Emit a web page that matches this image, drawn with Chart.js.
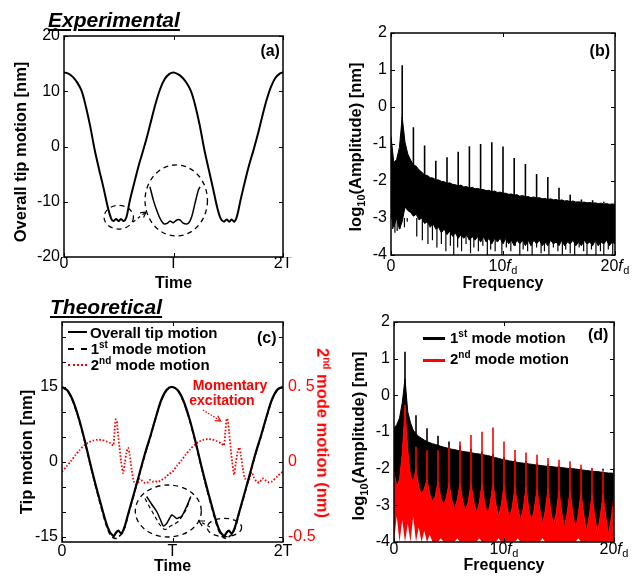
<!DOCTYPE html>
<html><head><meta charset="utf-8">
<title>Experimental and theoretical tip motion</title>
<script src="https://cdn.jsdelivr.net/npm/chart.js@4.4.1/dist/chart.umd.min.js"></script>
<style>
html,body{margin:0;padding:0;background:#fff;}
body{width:639px;height:576px;position:relative;overflow:hidden;font-family:"Liberation Sans",Arial,sans-serif;color:#000;}
#charts canvas{position:absolute;}
.t{position:absolute;white-space:nowrap;line-height:1;font-weight:bold;}
.ttl{font-size:21px;font-style:italic;text-decoration:underline;text-decoration-thickness:2px;text-underline-offset:2px;}
.lab{font-size:16px;}
.rot{position:absolute;white-space:nowrap;line-height:1;font-weight:bold;font-size:16.5px;transform:translate(-50%,-50%) rotate(-90deg);}
.sub{font-size:11px;position:relative;top:4px;}
.sup{font-size:10px;position:relative;top:-6px;}
.leg{font-size:15px;}
.sw{position:absolute;height:0;}
.red{color:#ff0000;}
</style></head><body>
<div id="charts"></div>

<div class="t ttl" style="left:48px;top:9px">Experimental</div>
<div class="t ttl" style="left:50px;top:295.5px">Theoretical</div>
<div class="t lab" style="left:260.4px;top:42.5px">(a)</div>
<div class="t lab" style="left:589.6px;top:42.5px">(b)</div>
<div class="t lab" style="left:257px;top:329.8px">(c)</div>
<div class="t lab" style="left:588px;top:327px">(d)</div>

<div class="rot" style="left:20px;top:151.7px">Overall tip motion [nm]</div>
<div class="rot" style="left:355px;top:146.5px">log<span class="sub">10</span>(Amplitude) [nm]</div>
<div class="rot" style="left:26px;top:451.7px">Tip motion [nm]</div>
<div class="rot" style="left:358px;top:435.7px">log<span class="sub">10</span>(Amplitude) [nm]</div>
<div class="rot red" style="left:322.5px;top:432.5px;transform:translate(-50%,-50%) rotate(90deg)">2<span class="sup">nd</span> mode motion (nm)</div>

<div class="sw" style="left:68px;top:330.7px;width:19px;border-top:2px solid #000"></div>
<div class="t leg" style="left:90px;top:325.3px">Overall tip motion</div>
<div class="sw" style="left:68px;top:348.3px;width:19px;border-top:2px dashed #000"></div>
<div class="t leg" style="left:90.7px;top:341.3px">1<span class="sup">st</span> mode motion</div>
<div class="sw" style="left:68px;top:364px;width:19px;border-top:2px dotted #ff0000"></div>
<div class="t leg" style="left:90.7px;top:356.6px">2<span class="sup">nd</span> mode motion</div>

<div class="sw" style="left:423px;top:336.8px;width:22px;border-top:3px solid #000"></div>
<div class="t leg" style="left:450px;top:329.7px">1<span class="sup">st</span> mode motion</div>
<div class="sw" style="left:423px;top:358.5px;width:22px;border-top:3px solid #ff0000"></div>
<div class="t leg" style="left:450px;top:351.3px">2<span class="sup">nd</span> mode motion</div>

<div class="t red" style="left:192.7px;top:378.1px;font-size:14px">Momentary</div>
<div class="t red" style="left:189.3px;top:393.2px;font-size:14px">excitation</div>

<script>
// ---------------- tick labels ----------------
const timeTickValues = [0, 1, 2];
const timeTickLabels = ['0', 'T', '2T'];
const tipTickValuesA = [-20, -10, 0, 10, 20];
const tipTickLabelsA = ['-20', '-10', '0', '10', '20'];
const tipTickValuesC = [-15, 0, 15];
const tipTickLabelsC = ['-15', '0', '15'];
const tipMinorTicksC = [-15, -10, -5, 0, 5, 10, 15, 20, 25];
const mode2TickValuesC = [-0.5, 0, 0.5];
const mode2TickLabelsC = ['-0.5', '0', '0. 5'];
const logTickValues = [-4, -3, -2, -1, 0, 1, 2];
const logTickLabels = ['-4', '-3', '-2', '-1', '0', '1', '2'];
const freqTickValues = [0, 10, 20];
const freqTickLabels = ['0', '10f_d', '20f_d'];

// ---------------- (a) experimental tip motion ----------------
const timeA = [0,0.04,0.08,0.12,0.16,0.2,0.24,0.28,0.32,0.36,0.4,0.43,0.45,0.475,0.5,0.52,0.545,0.57,0.6,0.64,0.68,0.72,0.76,0.8,0.84,0.88,0.92,0.96,1.0,
  1.04,1.08,1.12,1.16,1.2,1.24,1.28,1.32,1.36,1.4,1.43,1.46,1.485,1.51,1.53,1.555,1.58,1.61,1.65,1.69,1.73,1.77,1.81,1.85,1.89,1.93,1.97,2.0];
const tipA = [13.4,13.2,12.6,11.6,10.1,7.2,3.6,-0.6,-4.1,-7.4,-11.0,-13.0,-13.5,-13.1,-13.5,-13.1,-13.5,-12.8,-9.9,-6.7,-3.6,-0.9,1.9,5.0,8.0,10.5,12.2,13.1,13.4,
  13.1,12.5,11.5,10.0,7.3,3.8,-0.4,-4.0,-7.5,-11.1,-13.0,-13.6,-13.2,-13.6,-13.2,-13.6,-12.6,-9.9,-6.5,-3.4,-0.7,2.2,5.4,8.4,10.8,12.4,13.2,13.4];
const insetTimeA = [0.785,0.816,0.846,0.877,0.913,0.944,0.968,0.998,1.03,1.06,1.09,1.135,1.166,1.196,1.227,1.242];
const insetTipA = [-7.3,-9.7,-11.5,-13.0,-14.0,-13.9,-13.5,-13.8,-13.3,-13.3,-13.9,-13.9,-12.7,-10.3,-7.9,-7.3];

// ---------------- (c) theoretical tip motion ----------------
const timeC = [0,0.05,0.1,0.15,0.2,0.25,0.3,0.35,0.4,0.43,0.455,0.47,0.49,0.51,0.53,0.545,0.57,0.6,0.65,0.7,0.75,0.8,0.85,0.9,0.95,1.0,
  1.05,1.1,1.15,1.2,1.25,1.3,1.35,1.4,1.43,1.455,1.47,1.49,1.51,1.53,1.545,1.57,1.6,1.65,1.7,1.75,1.8,1.85,1.9,1.95,2.0];
const tipC = [15.0,14.3,12.2,8.9,4.8,0.2,-4.2,-8.3,-12.2,-13.9,-14.6,-14.8,-14.1,-13.7,-14.2,-14.1,-12.7,-10.3,-6.4,-2.4,1.6,5.2,9.0,12.5,14.5,15.0,
  14.3,12.2,8.9,4.8,0.2,-4.2,-8.3,-12.2,-13.9,-14.6,-14.8,-14.1,-13.7,-14.2,-14.1,-12.7,-10.3,-6.4,-2.4,1.6,5.2,9.0,12.5,14.5,15.0];
const mode1C = [15.0,14.2,12.0,8.7,4.6,0.0,-4.5,-8.7,-12.6,-14.3,-15.0,-15.2,-15.3,-15.0,-14.6,-14.3,-13.0,-10.5,-6.6,-2.6,1.4,5.0,8.9,12.4,14.4,15.0,
  14.2,12.0,8.7,4.6,0.0,-4.5,-8.7,-12.6,-14.3,-15.0,-15.2,-15.3,-15.0,-14.6,-14.3,-13.0,-10.5,-6.6,-2.6,1.4,5.0,8.9,12.4,14.4,15.0];
const timeM2 = [0,0.04,0.08,0.12,0.16,0.2,0.24,0.28,0.32,0.36,0.4,0.44,0.465,0.475,0.485,0.495,0.505,0.52,0.535,0.553,
  0.567,0.583,0.598,0.612,0.63,0.65,0.668,0.688,0.706,0.725,0.75,0.772,0.795,0.82,0.845,0.87,0.9,0.94,0.97,1.0,
  1.04,1.08,1.12,1.16,1.2,1.24,1.28,1.32,1.36,1.4,1.44,1.465,1.478,1.49,1.5,1.512,1.525,1.54,1.558,1.572,
  1.59,1.605,1.62,1.64,1.656,1.686,1.705,1.717,1.735,1.76,1.786,1.805,1.822,1.845,1.87,1.9,1.943,1.97,2.0];
const mode2C = [-0.065,-0.03,0.005,0.045,0.08,0.11,0.13,0.143,0.148,0.147,0.138,0.125,0.11,0.2,0.283,0.28,0.2,0.1,0.0,-0.075,
  -0.01,0.06,0.095,0.05,-0.05,-0.13,-0.15,-0.14,-0.11,-0.125,-0.14,-0.138,-0.12,-0.13,-0.128,-0.133,-0.12,-0.1,-0.08,-0.065,
  -0.025,0.01,0.05,0.085,0.115,0.135,0.148,0.152,0.15,0.14,0.125,0.11,0.2,0.29,0.28,0.2,0.1,0.0,-0.085,-0.01,
  0.07,0.097,0.04,-0.06,-0.11,-0.132,-0.09,-0.067,-0.1,-0.13,-0.138,-0.115,-0.11,-0.125,-0.135,-0.13,-0.1,-0.08,-0.065];
const insetTimeC = [0.766,0.81,0.857,0.89,0.917,0.947,0.97,0.993,1.015,1.038,1.06,1.083,1.113,1.14,1.165];
const insetTipC = [-6.9,-8.4,-9.9,-11.5,-12.8,-12.3,-11.4,-10.6,-10.9,-11.3,-11.1,-10.9,-9.6,-8.3,-6.9];
const insetTimeM1C = [0.751,0.79,0.826,0.86,0.887,0.91,0.932,0.955,0.977,1.0,1.052,1.09,1.128,1.158];
const insetMode1C = [-7.3,-8.9,-10.3,-11.6,-12.6,-13.2,-13.5,-13.3,-12.9,-12.6,-11.9,-10.7,-9.3,-7.3];

// ---------------- spectra (b) and (d) ----------------
const freqGrid = [0,0.25,0.5,0.75,1,1.25,1.5,1.75,2,2.25, 2.5,2.75,3,3.25,3.5,3.75,4,4.25,4.5,4.75,
  5,5.25,5.5,5.75,6,6.25,6.5,6.75,7,7.25, 7.5,7.75,8,8.25,8.5,8.75,9,9.25,9.5,9.75,
  10,10.25,10.5,10.75,11,11.25,11.5,11.75,12,12.25, 12.5,12.75,13,13.25,13.5,13.75,14,14.25,14.5,14.75,
  15,15.25,15.5,15.75,16,16.25,16.5,16.75,17,17.25, 17.5,17.75,18,18.25,18.5,18.75,19,19.25,19.5,19.75, 20];
const harmonics = [1,2,3,4,5,6,7,8,9,10,11,12,13,14,15,16,17,18,19,20];

const expUpper = [-0.8,-1.5,-1.42,-1.1,-0.27,-0.95,-1.27,-1.43,-1.56,-1.6, -1.7,-1.76,-1.84,-1.85,-1.91,-1.92,-1.97,-1.97,-2.01,-2.02,
  -2.06,-2.05,-2.09,-2.1,-2.13,-2.11,-2.16,-2.15,-2.19,-2.17, -2.21,-2.2,-2.23,-2.23,-2.26,-2.25,-2.29,-2.27,-2.31,-2.3,
  -2.33,-2.33,-2.36,-2.35,-2.38,-2.37,-2.41,-2.39,-2.43,-2.42, -2.45,-2.43,-2.46,-2.45,-2.48,-2.47,-2.5,-2.48,-2.51,-2.5,
  -2.53,-2.51,-2.54,-2.53,-2.56,-2.54,-2.57,-2.56,-2.58,-2.57, -2.59,-2.58,-2.6,-2.59,-2.61,-2.6,-2.62,-2.61,-2.63,-2.62, -2.63];
const expLower = [-2.9,-3.25,-3.0,-3.3,-3.1,-2.7,-2.8,-2.85,-2.95,-2.9, -3.05,-3.0,-3.15,-3.1,-3.25,-3.15,-3.3,-3.25,-3.4,-3.3,
  -3.45,-3.35,-3.5,-3.4,-3.55,-3.45,-3.55,-3.45,-3.6,-3.5, -3.6,-3.5,-3.65,-3.5,-3.65,-3.55,-3.7,-3.55,-3.65,-3.55,
  -3.7,-3.55,-3.7,-3.6,-3.75,-3.6,-3.7,-3.6,-3.75,-3.6, -3.75,-3.6,-3.7,-3.6,-3.75,-3.65,-3.75,-3.6,-3.7,-3.65,
  -3.75,-3.6,-3.75,-3.65,-3.7,-3.6,-3.75,-3.65,-3.75,-3.6, -3.7,-3.65,-3.75,-3.6,-3.75,-3.65,-3.7,-3.6,-3.75,-3.65, -3.7];
const expPeaks = [1.13,-0.55,-1.04,-1.45,-1.36,-1.21,-1.06,-1.0,-0.95,-1.07,-1.38,-1.54,-1.81,-1.89,-2.18,-2.37,-2.5,-2.52,-2.56,-2.58];
const expDipFreq = [0.15,0.35,0.55,0.8,1.2,1.45,2.3,2.8,3.3,3.7,4.1,4.5,4.9,5.3,5.6,5.95,6.3,6.7,7.1,7.4,7.8,8.2,8.6,8.9,9.3,9.9,
  10.3,10.7,11.1,11.5,11.8,12.2,12.6,13.0,13.4,13.7,14.1,14.5,14.9,15.3,15.6,16.0,16.4,16.8,17.2,17.5,17.9,18.3,18.7,19.0,19.4,19.8];
const expDipDepth = [-3.3,-3.4,-3.35,-3.3,-3.25,-3.1,-3.5,-3.6,-3.7,-3.6,-3.8,-3.7,-3.9,-3.75,-4.0,-3.8,-3.9,-3.7,-3.95,-3.8,-3.9,-3.75,-4.0,-3.85,-3.9,-4.0,
  -3.8,-3.9,-3.75,-4.0,-3.85,-3.9,-4.0,-3.8,-3.95,-3.9,-4.0,-3.8,-3.9,-4.0,-3.85,-3.95,-4.0,-3.8,-3.9,-4.0,-3.85,-4.0,-3.9,-4.0,-3.85,-4.0];

const m1Upper = [-0.9,-0.8,-0.62,-0.2,0.45,-0.45,-0.75,-0.95,-1.05,-1.12, -1.17,-1.22,-1.26,-1.29,-1.32,-1.34,-1.36,-1.39,-1.41,-1.43,
  -1.45,-1.47,-1.48,-1.5,-1.51,-1.53,-1.54,-1.55,-1.56,-1.58, -1.59,-1.6,-1.61,-1.63,-1.64,-1.66,-1.68,-1.7,-1.72,-1.74,
  -1.76,-1.77,-1.79,-1.8,-1.81,-1.83,-1.84,-1.85,-1.86,-1.87, -1.88,-1.89,-1.9,-1.91,-1.92,-1.93,-1.94,-1.94,-1.95,-1.96,
  -1.96,-1.97,-1.98,-1.99,-2.0,-2.0,-2.01,-2.02,-2.03,-2.04, -2.05,-2.06,-2.07,-2.08,-2.08,-2.09,-2.1,-2.11,-2.12,-2.12, -2.13];
const m1Peaks = [1.19,-0.54,-0.9,-1.1,-1.26,-1.37,-1.46,-1.53,-1.6,-1.68,-1.75,-1.8,-1.85,-1.88,-1.92,-1.95,-1.99,-2.03,-2.06,-2.09];
const m2Curve = [-2.1,-2.5,-2.3,-1.6,-0.35,-1.5,-2.2,-2.35,-2.0,-2.5, -2.7,-2.55,-2.3,-2.7,-2.9,-2.75,-2.35,-2.8,-3.0,-2.8,
  -2.4,-2.85,-3.1,-2.85,-2.4,-2.9,-3.15,-2.9,-2.4,-2.9, -3.2,-2.95,-2.4,-2.95,-3.25,-2.95,-2.4,-2.95,-3.3,-3.0,
  -2.45,-3.0,-3.35,-3.05,-2.5,-3.05,-3.4,-3.1,-2.5,-3.1, -3.45,-3.1,-2.55,-3.1,-3.5,-3.15,-2.55,-3.15,-3.55,-3.2,
  -2.6,-3.2,-3.6,-3.2,-2.6,-3.2,-3.65,-3.25,-2.65,-3.25, -3.7,-3.3,-2.7,-3.3,-3.75,-3.3,-2.7,-3.3,-3.8,-3.35, -2.75];
const m2Lower = [-4,-3.3,-4,-3.4,-4,-3.5,-4,-3.3,-4,-3.6, -4,-3.7,-4,-3.8,-4,-4,-4,-3.9,-4,-4,
  -4,-4,-4,-3.9,-4,-4,-4,-4,-4,-4, -4,-3.9,-4,-4,-4,-4,-4,-4,-3.9,-4,
  -4,-4,-4,-4,-4,-3.9,-4,-4,-4,-4, -4,-4,-4,-4,-3.9,-4,-4,-4,-4,-4,
  -4,-4,-4,-4,-4,-4,-4,-3.9,-4,-4, -4,-4,-4,-4,-4,-4,-4,-4,-4,-4, -4];
const m2Peaks = [-0.26,-1.4,-1.5,-1.5,-1.4,-1.26,-1.08,-0.99,-0.88,-1.26,-1.49,-1.56,-1.62,-1.71,-1.76,-1.8,-1.89,-1.98,-2.07,-2.1];

// ---------------- helpers ----------------
const pts = (xs, ys) => xs.map((x, i) => ({x: x, y: ys[i]}));
const spikes = (ns, tops, base) => ns.flatMap((n, i) => [{x: n, y: base}, {x: n, y: tops[i]}, {x: n, y: null}]);
const FONT = '"Liberation Sans", Arial, sans-serif';
const RED = '#ff0000';

Chart.defaults.font.family = FONT;
Chart.defaults.font.size = 16;
Chart.defaults.color = '#000';
Chart.defaults.plugins.legend.display = false;
Chart.defaults.plugins.tooltip.enabled = false;

// frame + inward tick marks
const framePlugin = {
  id: 'frame',
  afterDatasetsDraw(chart, args, o) {
    if (!o || !o.on) return;
    const {ctx, chartArea: a, scales} = chart;
    const L = 4;
    ctx.save();
    ctx.strokeStyle = '#000'; ctx.lineWidth = 1;
    (o.x || []).forEach(v => {
      const x = Math.round(scales.x.getPixelForValue(v)) + 0.5;
      ctx.beginPath();
      ctx.moveTo(x, a.bottom); ctx.lineTo(x, a.bottom - L);
      ctx.moveTo(x, a.top); ctx.lineTo(x, a.top + L);
      ctx.stroke();
    });
    (o.y || []).forEach(v => {
      const y = Math.round(scales.y.getPixelForValue(v)) + 0.5;
      ctx.beginPath();
      ctx.moveTo(a.left, y); ctx.lineTo(a.left + L, y);
      ctx.moveTo(a.right, y); ctx.lineTo(a.right - L, y);
      ctx.stroke();
    });
    ctx.lineWidth = 1.5;
    ctx.strokeRect(a.left, a.top, a.right - a.left, a.bottom - a.top);
    ctx.restore();
  }
};

function drawArrow(ctx, x1, y1, x2, y2, color, dash, lw) {
  ctx.save();
  ctx.strokeStyle = color; ctx.lineWidth = lw; ctx.setLineDash(dash);
  ctx.beginPath(); ctx.moveTo(x1, y1); ctx.lineTo(x2, y2); ctx.stroke();
  ctx.setLineDash([]);
  const ang = Math.atan2(y2 - y1, x2 - x1), L = 6, w = 0.5;
  ctx.beginPath();
  ctx.moveTo(x2 - L * Math.cos(ang - w), y2 - L * Math.sin(ang - w));
  ctx.lineTo(x2, y2);
  ctx.lineTo(x2 - L * Math.cos(ang + w), y2 - L * Math.sin(ang + w));
  ctx.stroke();
  ctx.restore();
}

// dashed ellipses and arrows placed in data coordinates
const annotPlugin = {
  id: 'annot',
  afterDatasetsDraw(chart, args, o) {
    if (!o || !o.on) return;
    const {ctx, scales: {x, y}} = chart;
    ctx.save();
    (o.ellipses || []).forEach(e => {
      const cx = x.getPixelForValue(e.t), cy = y.getPixelForValue(e.v);
      const rx = Math.abs(x.getPixelForValue(e.t + e.rt) - cx);
      const ry = Math.abs(y.getPixelForValue(e.v + e.rv) - cy);
      ctx.setLineDash([5, 4]); ctx.lineWidth = 1.3; ctx.strokeStyle = '#000';
      ctx.beginPath(); ctx.ellipse(cx, cy, rx, ry, 0, 0, Math.PI * 2); ctx.stroke();
    });
    ctx.restore();
    (o.arrows || []).forEach(ar => {
      drawArrow(ctx, x.getPixelForValue(ar.from[0]), y.getPixelForValue(ar.from[1]),
        x.getPixelForValue(ar.to[0]), y.getPixelForValue(ar.to[1]), ar.color, ar.dash, ar.lw);
    });
  }
};

// frequency tick labels "10 f d" with italic f and subscript d
const fdTickPlugin = {
  id: 'fdTicks',
  afterDraw(chart, args, o) {
    if (!o || !o.values) return;
    const {ctx, scales: {x}} = chart;
    ctx.save();
    ctx.fillStyle = '#000'; ctx.textBaseline = 'alphabetic'; ctx.textAlign = 'left';
    const fN = '16px ' + FONT, fI = 'italic 16px ' + FONT, fS = '11px ' + FONT;
    o.values.forEach((v, i) => {
      const parts = o.labels[i].split('f_');
      const num = parts[0], sub = parts.length > 1 ? parts[1] : null;
      ctx.font = fN; const w1 = ctx.measureText(num).width;
      let w2 = 0, w3 = 0;
      if (sub !== null) {
        ctx.font = fI; w2 = ctx.measureText('f').width + 0.5;
        ctx.font = fS; w3 = ctx.measureText(sub).width;
      }
      let px = x.getPixelForValue(v) - (w1 + w2 + w3) / 2;
      ctx.font = fN; ctx.fillText(num, px, o.baseline); px += w1;
      if (sub !== null) {
        ctx.font = fI; ctx.fillText('f', px, o.baseline); px += w2;
        ctx.font = fS; ctx.fillText(sub, px, o.baseline + 3);
      }
    });
    ctx.restore();
  }
};
Chart.register(framePlugin, annotPlugin, fdTickPlugin);

function makeCanvas(id, x, y, w, h) {
  const c = document.createElement('canvas');
  c.id = id; c.width = w; c.height = h;
  c.style.left = x + 'px'; c.style.top = y + 'px';
  c.style.width = w + 'px'; c.style.height = h + 'px';
  document.getElementById('charts').appendChild(c);
  return c;
}

const noGrid = {display: false, drawTicks: false};
const noBorder = {display: false};
function fixedTicks(values) { return s => { s.ticks = values.map(v => ({value: v})); }; }
function xTitle(text, padBottom) {
  return {display: true, text: text, color: '#000', font: {size: 16, weight: 'bold', lineHeight: 1}, padding: {top: 0, bottom: padBottom}};
}
function yLinear(min, max, vals, labs, width, pos, color) {
  return {
    type: 'linear', position: pos || 'left', min: min, max: max,
    grid: noGrid, border: noBorder,
    afterBuildTicks: fixedTicks(vals),
    afterFit: s => { s.width = width; },
    ticks: {color: color || '#000', font: {size: 16, lineHeight: 1}, padding: pos === 'right' ? 5 : 4,
      autoSkip: false, callback: (v, i) => labs[i]}
  };
}
const baseOpts = {responsive: false, animation: false, devicePixelRatio: 1, events: []};

// ---------------- panel (a) ----------------
new Chart(makeCanvas('chartA', 0, 0, 320, 295), {
  type: 'line',
  data: {datasets: [
    {data: pts(timeA, tipA), borderColor: '#000', borderWidth: 2, pointRadius: 0, tension: 0.35, fill: false},
    {data: pts(insetTimeA, insetTipA), borderColor: '#000', borderWidth: 1.5, pointRadius: 0, tension: 0.3, fill: false}
  ]},
  options: Object.assign({}, baseOpts, {
    layout: {padding: {left: 0, top: 36, right: 37, bottom: 0}},
    scales: {
      x: {type: 'linear', min: 0, max: 2, grid: noGrid, border: noBorder,
        afterBuildTicks: fixedTicks(timeTickValues), afterFit: s => { s.height = 38; },
        ticks: {font: {size: 16, lineHeight: 1}, padding: -1, autoSkip: false, maxRotation: 0, callback: (v, i) => timeTickLabels[i]},
        title: xTitle('Time', 3.5)},
      y: yLinear(-20, 20, tipTickValuesA, tipTickLabelsA, 64)
    },
    plugins: {
      frame: {on: true, x: timeTickValues, y: tipTickValuesA},
      annot: {on: true,
        ellipses: [{t: 0.5, v: -12.8, rt: 0.134, rv: 2.14}, {t: 1.025, v: -9.77, rt: 0.285, rv: 6.43}],
        arrows: [{from: [0.63, -13.66], to: [0.749, -11.86], color: '#000', dash: [3, 3], lw: 1.2}]}
    }
  })
});

// ---------------- panel (b) ----------------
new Chart(makeCanvas('chartB', 320, 0, 319, 295), {
  type: 'line',
  data: {datasets: [
    {data: pts(freqGrid, expUpper), borderColor: '#000', backgroundColor: '#000', borderWidth: 1, pointRadius: 0, tension: 0, fill: 1, order: 4},
    {data: pts(freqGrid, expLower), borderColor: '#000', borderWidth: 1, pointRadius: 0, tension: 0, fill: false, order: 3},
    {data: spikes(expDipFreq, expDipDepth, -3.0), borderColor: '#000', borderWidth: 1.2, pointRadius: 0, spanGaps: false, fill: false, order: 2},
    {data: spikes(harmonics, expPeaks, -2.6), borderColor: '#000', borderWidth: 1.6, pointRadius: 0, spanGaps: false, fill: false, order: 1}
  ]},
  options: Object.assign({}, baseOpts, {
    layout: {padding: {left: 0, top: 33, right: 24, bottom: 0}},
    scales: {
      x: {type: 'linear', min: 0, max: 20, grid: noGrid, border: noBorder,
        afterBuildTicks: fixedTicks(freqTickValues), afterFit: s => { s.height = 40; },
        ticks: {display: false}, title: xTitle('Frequency', 3.5)},
      y: yLinear(-4, 2, logTickValues, logTickLabels, 71)
    },
    plugins: {
      frame: {on: true, x: freqTickValues, y: logTickValues},
      fdTicks: {values: freqTickValues, labels: freqTickLabels, baseline: 270.7}
    }
  })
});

// ---------------- panel (c) ----------------
new Chart(makeCanvas('chartC', 0, 290, 340, 286), {
  type: 'line',
  data: {datasets: [
    {data: pts(timeC, tipC), borderColor: '#000', borderWidth: 2.2, pointRadius: 0, tension: 0.3, fill: false, yAxisID: 'y'},
    {data: pts(timeC, mode1C), borderColor: '#000', borderWidth: 1.5, borderDash: [5, 3], pointRadius: 0, tension: 0.3, fill: false, yAxisID: 'y'},
    {data: pts(timeM2, mode2C), borderColor: RED, borderWidth: 1.8, borderDash: [1.6, 1.8], pointRadius: 0, tension: 0.25, fill: false, yAxisID: 'y2'},
    {data: pts(insetTimeC, insetTipC), borderColor: '#000', borderWidth: 1.5, pointRadius: 0, tension: 0.3, fill: false, yAxisID: 'y'},
    {data: pts(insetTimeM1C, insetMode1C), borderColor: '#000', borderWidth: 1.2, borderDash: [4, 3], pointRadius: 0, tension: 0.3, fill: false, yAxisID: 'y'}
  ]},
  options: Object.assign({}, baseOpts, {
    layout: {padding: {left: 0, top: 32, right: 0, bottom: 0}},
    scales: {
      x: {type: 'linear', min: 0, max: 2, grid: noGrid, border: noBorder,
        afterBuildTicks: fixedTicks(timeTickValues), afterFit: s => { s.height = 34; },
        ticks: {font: {size: 16, lineHeight: 1}, padding: 1.7, autoSkip: false, maxRotation: 0, callback: (v, i) => timeTickLabels[i]},
        title: xTitle('Time', 1)},
      y: yLinear(-16, 28, tipTickValuesC, tipTickLabelsC, 62),
      y2: yLinear(-16 / 30, 28 / 30, mode2TickValuesC, mode2TickLabelsC, 57, 'right', RED)
    },
    plugins: {
      frame: {on: true, x: timeTickValues, y: tipMinorTicksC},
      annot: {on: true,
        ellipses: [{t: 0.962, v: -9.8, rt: 0.2986, rv: 5.2}, {t: 1.47, v: -13.1, rt: 0.156, rv: 1.84}],
        arrows: [
          {from: [1.339, -13.0], to: [1.24, -11.8], color: '#000', dash: [3, 3], lw: 1.2},
          {from: [1.276, 10.4], to: [1.436, 8.2], color: RED, dash: [1.5, 1.5], lw: 1.2}
        ]}
    }
  })
});

// ---------------- panel (d) ----------------
new Chart(makeCanvas('chartD', 340, 290, 299, 286), {
  type: 'line',
  data: {datasets: [
    {data: pts(freqGrid, m1Upper), borderColor: '#000', backgroundColor: '#000', borderWidth: 1, pointRadius: 0, tension: 0, fill: 2, order: 5},
    {data: spikes(harmonics, m1Peaks, -2.0), borderColor: '#000', borderWidth: 1.6, pointRadius: 0, spanGaps: false, fill: false, order: 4},
    {data: pts(freqGrid, m2Curve), borderColor: RED, backgroundColor: RED, borderWidth: 1, pointRadius: 0, tension: 0, fill: 3, order: 3},
    {data: pts(freqGrid, m2Lower), borderColor: 'rgba(0,0,0,0)', borderWidth: 0, pointRadius: 0, tension: 0, fill: false, order: 2},
    {data: spikes(harmonics, m2Peaks, -3.0), borderColor: RED, borderWidth: 1.6, pointRadius: 0, spanGaps: false, fill: false, order: 1}
  ]},
  options: Object.assign({}, baseOpts, {
    layout: {padding: {left: 0, top: 32, right: 25, bottom: 0}},
    scales: {
      x: {type: 'linear', min: 0, max: 20, grid: noGrid, border: noBorder,
        afterBuildTicks: fixedTicks(freqTickValues), afterFit: s => { s.height = 34; },
        ticks: {display: false}, title: xTitle('Frequency', 2)},
      y: yLinear(-4, 2, logTickValues, logTickLabels, 54)
    },
    plugins: {
      frame: {on: true, x: freqTickValues, y: logTickValues},
      fdTicks: {values: freqTickValues, labels: freqTickLabels, baseline: 264}
    }
  })
});
</script>
</body></html>
